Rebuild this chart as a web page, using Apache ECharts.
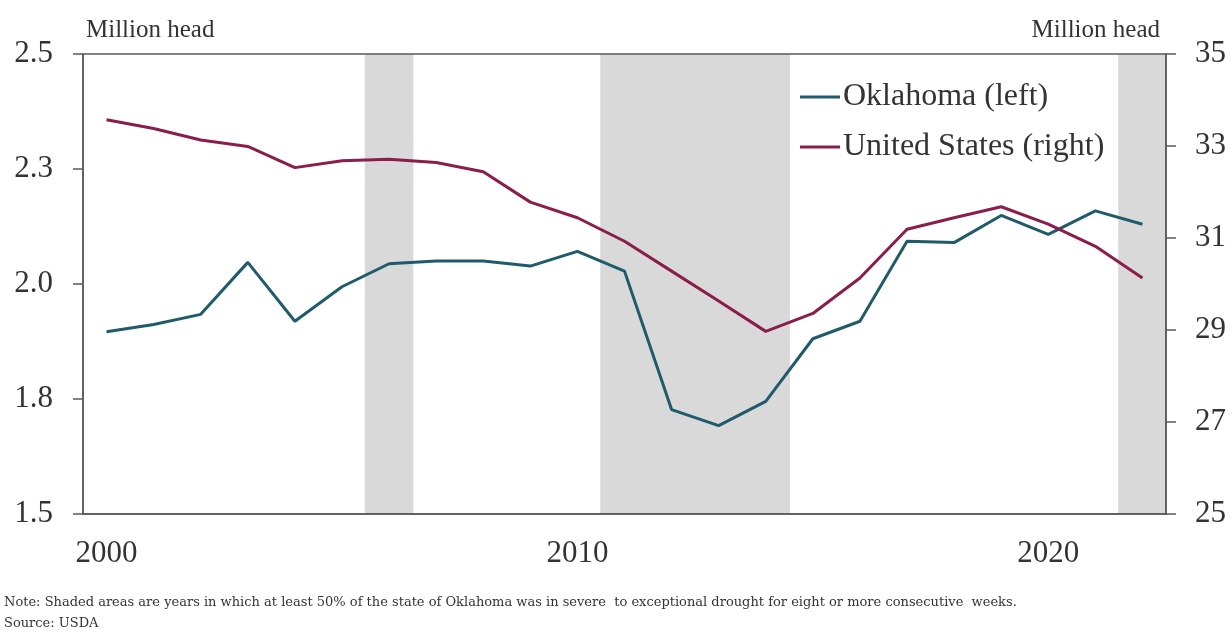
<!DOCTYPE html>
<html>
<head>
<meta charset="utf-8">
<script src="https://cdn.jsdelivr.net/npm/echarts@6/dist/echarts.min.js"></script>
<style>
  html, body { margin: 0; padding: 0; background: #fff; }
  #chart { width: 1232px; height: 633px; }
</style>
</head>
<body>
<div id="chart"></div>
<script>
  // years on the x axis
  let years = ['2000', '2001', '2002', '2003', '2004', '2005', '2006', '2007', '2008', '2009', '2010',
    '2011', '2012', '2013', '2014', '2015', '2016', '2017', '2018', '2019', '2020', '2021', '2022'];
  // beef cows, million head
  let oklahoma = [1.896, 1.912, 1.934, 2.047, 1.919, 1.994, 2.044, 2.050, 2.050, 2.039, 2.071,
    2.028, 1.727, 1.692, 1.745, 1.881, 1.919, 2.093, 2.090, 2.149, 2.108, 2.159, 2.130];
  let unitedStates = [33.57, 33.38, 33.13, 32.99, 32.53, 32.68, 32.71, 32.64, 32.44, 31.78, 31.44,
    30.93, 30.28, 29.63, 28.97, 29.36, 30.13, 31.19, 31.44, 31.68, 31.30, 30.82, 30.13];
  // 1 = drought year (shaded)
  let drought = [0, 0, 0, 0, 0, 0, 1, 0, 0, 0, 0,
    1, 1, 1, 1, 0, 0, 0, 0, 0, 0, 0, 1];

  let font = '"Liberation Serif", "DejaVu Serif", serif';
  let noteFont = '"DejaVu Serif", serif';
  let axisColor = '#595959';
  let textColor = '#333';

  let myChart = echarts.init(document.getElementById('chart'));
  let option = {
    animation: false,
    backgroundColor: '#fff',
    textStyle: { fontFamily: font },
    title: [
      { text: 'Million head', left: 86, top: 18, padding: 0,
        textStyle: { fontSize: 25, fontWeight: 'normal', color: textColor, fontFamily: font } },
      { text: 'Million head', right: 72, top: 18, padding: 0,
        textStyle: { fontSize: 25, fontWeight: 'normal', color: textColor, fontFamily: font } }
    ],
    legend: {
      data: ['Oklahoma (left)', 'United States (right)'],
      orient: 'vertical',
      left: 800,
      top: 81,
      padding: 0,
      itemGap: 18,
      itemWidth: 40,
      itemHeight: 3,
      icon: 'rect',
      textStyle: { fontSize: 32, color: textColor, fontFamily: font, lineHeight: 32, padding: [0, 0, 0, -2] }
    },
    grid: {
      left: 83, right: 66, top: 54, bottom: 119,
      show: true, borderColor: axisColor, borderWidth: 1.5, z: 5
    },
    xAxis: {
      type: 'category',
      data: years,
      boundaryGap: true,
      z: 5,
      axisLine: { lineStyle: { color: axisColor, width: 1.5 } },
      axisTick: { interval: 0, length: 9, lineStyle: { color: axisColor, width: 1.5 } },
      axisLabel: { interval: 9, margin: 24, fontSize: 31, color: textColor, fontFamily: font },
      splitLine: { show: false }
    },
    yAxis: [
      {
        type: 'value', min: 1.5, max: 2.5, interval: 0.25, position: 'left', z: 5,
        axisLine: { show: true, lineStyle: { color: axisColor, width: 1.5 } },
        axisTick: { show: true, length: 10, lineStyle: { color: axisColor, width: 1.5 } },
        axisLabel: { margin: 30, fontSize: 31, color: textColor, fontFamily: font,
          formatter: function (v) { return v.toFixed(1); } },
        splitLine: { show: false }
      },
      {
        type: 'value', min: 25, max: 35, interval: 2, position: 'right', z: 5,
        axisLine: { show: true, lineStyle: { color: axisColor, width: 1.5 } },
        axisTick: { show: true, length: 10, lineStyle: { color: axisColor, width: 1.5 } },
        axisLabel: { margin: 29, fontSize: 31, color: textColor, fontFamily: font },
        splitLine: { show: false }
      },
      { type: 'value', min: 0, max: 1, show: false }
    ],
    series: [
      {
        name: 'drought',
        type: 'bar',
        yAxisIndex: 2,
        data: drought,
        barWidth: '103%',
        itemStyle: { color: '#d9d9d9' },
        silent: true,
        z: 1
      },
      {
        name: 'Oklahoma (left)',
        type: 'line',
        yAxisIndex: 0,
        data: oklahoma,
        symbol: 'none',
        lineStyle: { color: '#1f5b6b', width: 3 },
        itemStyle: { color: '#1f5b6b' },
        z: 3
      },
      {
        name: 'United States (right)',
        type: 'line',
        yAxisIndex: 1,
        data: unitedStates,
        symbol: 'none',
        lineStyle: { color: '#8a1d4c', width: 3 },
        itemStyle: { color: '#8a1d4c' },
        z: 3
      }
    ],
    graphic: [
      {
        type: 'text', left: 4, top: 596,
        style: {
          text: 'Note: Shaded areas are years in which at least 50% of the state of Oklahoma was in severe  to exceptional drought for eight or more consecutive  weeks.',
          fontSize: 13, fill: textColor, fontFamily: noteFont
        }
      },
      {
        type: 'text', left: 4, top: 617,
        style: { text: 'Source: USDA', fontSize: 13, fill: textColor, fontFamily: noteFont }
      }
    ]
  };
  myChart.setOption(option);
</script>
</body>
</html>
